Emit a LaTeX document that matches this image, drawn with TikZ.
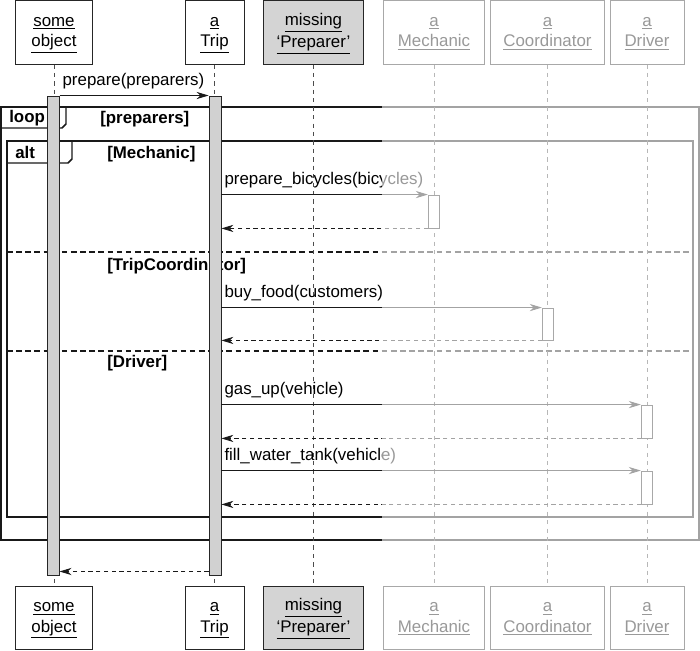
\documentclass[tikz,border=0pt]{standalone}
\usepackage{fontspec}
\setmainfont{Liberation Sans}
\usetikzlibrary{arrows.meta, positioning, calc}
\definecolor{barfill}{gray}{0.82}
\definecolor{missfill}{gray}{0.83}
\newcommand{\hdtxt}[2]{\strut\underline{#1}\\\strut\underline{#2}}

\begin{document}
\begin{tikzpicture}[
  x=0.025cm, y=-0.025cm,
  font=\fontsize{12}{14.5}\selectfont,
  sqhead/.style={draw=black!85, line width=0.7pt, align=center, inner sep=0pt,
                 minimum height=1.575cm},
  sqmiss/.style={sqhead, fill=missfill},
  sqbar/.style={draw=black!85, line width=0.6pt, fill=barfill, inner sep=0pt,
                minimum width=0.28cm, minimum height=11.975cm},
  sqact/.style={draw=black!85, line width=0.6pt, fill=white, inner sep=0pt,
                minimum width=0.29cm, minimum height=0.825cm},
  sqlife/.style={draw=black!70, dashed, line width=0.6pt},
  sqframe/.style={draw=black!90, line width=1.05pt},
  sqsep/.style={draw=black!90, line width=0.8pt, dash pattern=on 4pt off 2.5pt},
  sqmsg/.style={-{Stealth[length=3mm, width=1.8mm]}, draw=black!90, line width=0.6pt},
  sqret/.style={sqmsg, dash pattern=on 3pt off 2.5pt},
  sqlbl/.style={anchor=base west, inner sep=2pt, yshift=7pt},
  sqtag/.style={font=\fontsize{12}{14.5}\selectfont\bfseries, anchor=west, inner sep=0pt}
]
\useasboundingbox (0,0) rectangle (700,651);

% ---------------------------------------------- the heads, top and bottom
\node[sqhead, minimum width=1.9cm]   (obj)   at (54,32.5)    {\hdtxt{some}{object}};
\node[sqhead, minimum width=1.475cm] (trip)  at (214.5,32.5) {\hdtxt{a}{Trip}};
\node[sqmiss, minimum width=2.475cm] (prep)  at (313.5,32.5) {\hdtxt{missing}{`Preparer'}};
\node[sqhead, minimum width=2.5cm]   (mech)  at (434,32.5)   {\hdtxt{a}{Mechanic}};
\node[sqhead, minimum width=2.825cm] (coord) at (547.5,32.5) {\hdtxt{a}{Coordinator}};
\node[sqhead, minimum width=1.85cm]  (drv)   at (647,32.5)   {\hdtxt{a}{Driver}};

\node[sqhead, minimum width=1.9cm]   (objB)   at (54,618)    {\hdtxt{some}{object}};
\node[sqhead, minimum width=1.475cm] (tripB)  at (214.5,618) {\hdtxt{a}{Trip}};
\node[sqmiss, minimum width=2.475cm] (prepB)  at (313.5,618) {\hdtxt{missing}{`Preparer'}};
\node[sqhead, minimum width=2.5cm]   (mechB)  at (434,618)   {\hdtxt{a}{Mechanic}};
\node[sqhead, minimum width=2.825cm] (coordB) at (547.5,618) {\hdtxt{a}{Coordinator}};
\node[sqhead, minimum width=1.85cm]  (drvB)   at (647,618)   {\hdtxt{a}{Driver}};

% ---------------------------------------------- the loop and alt frames
\draw[sqframe] (1,107) rectangle (699,540);
\draw[sqframe] (1,128) -- (62,128) -- (66,124) -- (66,107);
\node[sqtag] (loopTag) at (9,118) {loop};
\node[sqtag] (loopGrd) at (100,119) {[preparers]};

\draw[sqframe] (7,141) rectangle (693,517);
\draw[sqframe] (7,163) -- (68,163) -- (72,159) -- (72,141);
\node[sqtag] (altTag)   at (15,152)  {alt};
\node[sqtag] (grdMech)  at (107,154) {[Mechanic]};
\draw[sqsep] (7,252) -- (693,252);
\node[sqtag] (grdCoord) at (107,266) {[TripCoordinator]};
\draw[sqsep] (7,351) -- (693,351);
\node[sqtag] (grdDrv)   at (107,363) {[Driver]};

% ---------------------------------------------- lifelines
\draw[sqlife] (obj)   -- (objB);
\draw[sqlife] (trip)  -- (tripB);
\draw[sqlife] (prep)  -- (prepB);
\draw[sqlife] (mech)  -- (mechB);
\draw[sqlife] (coord) -- (coordB);
\draw[sqlife] (drv)   -- (drvB);

% ---------------------------------------------- activations
\node[sqbar] (objAct)  at (53.5,335.5) {};
\node[sqbar, minimum width=0.3cm] (tripAct) at (215,335.5) {};
\node[sqact] (mechAct)  at (434,211.5) {};
\node[sqact, minimum height=0.8cm] (coordAct) at (548,324) {};
\node[sqact] (drvAct)   at (647,421.5) {};
\node[sqact] (drvActB)  at (647,487.5) {};

% ---------------------------------------------- messages
\draw[sqmsg] (objAct.north east) -- (tripAct.north west);
\node[sqlbl] (mPrep) at (objAct.north east) {prepare(preparers)};

\draw[sqmsg] (tripAct.east |- mechAct.north) -- (mechAct.north west);
\node[sqlbl] (mBike) at (tripAct.east |- mechAct.north) {prepare\_bicycles(bicycles)};
\draw[sqret] (mechAct.south west) -- (tripAct.east |- mechAct.south);

\draw[sqmsg] (tripAct.east |- coordAct.north) -- (coordAct.north west);
\node[sqlbl] (mFood) at (tripAct.east |- coordAct.north) {buy\_food(customers)};
\draw[sqret] (coordAct.south west) -- (tripAct.east |- coordAct.south);

\draw[sqmsg] (tripAct.east |- drvAct.north) -- (drvAct.north west);
\node[sqlbl] (mGas) at (tripAct.east |- drvAct.north) {gas\_up(vehicle)};
\draw[sqret] (drvAct.south west) -- (tripAct.east |- drvAct.south);

\draw[sqmsg] (tripAct.east |- drvActB.north) -- (drvActB.north west);
\node[sqlbl] (mTank) at (tripAct.east |- drvActB.north) {fill\_water\_tank(vehicle)};
\draw[sqret] (drvActB.south west) -- (tripAct.east |- drvActB.south);

\draw[sqret] ([yshift=1mm]tripAct.south west) -- ([yshift=1mm]objAct.south east);

% ---------------------------------------------- the greyed right part
\fill[white, opacity=0.6] (382,0) rectangle (700,651);

\end{tikzpicture}
\end{document}
